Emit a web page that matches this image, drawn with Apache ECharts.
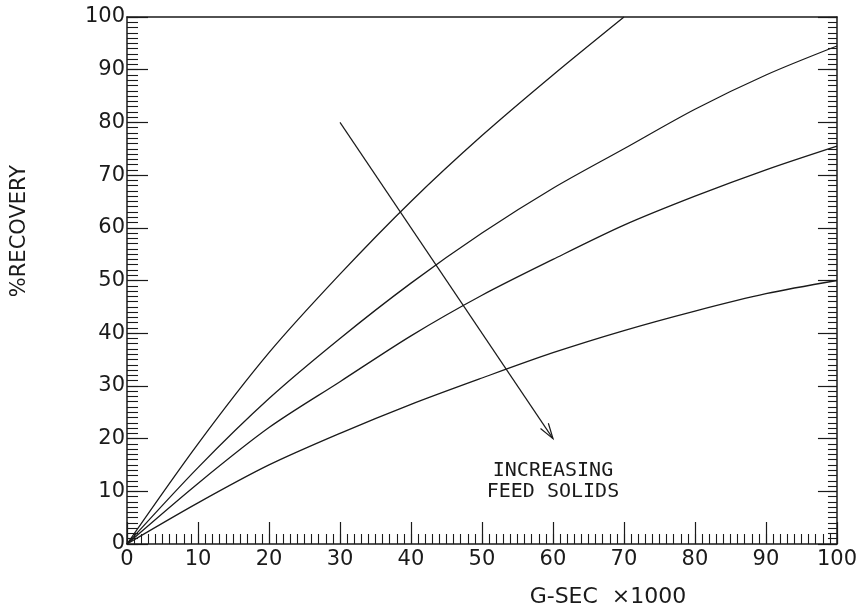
<!DOCTYPE html>
<html>
<head>
<meta charset="utf-8">
<script src="https://cdn.jsdelivr.net/npm/echarts@6/dist/echarts.min.js"></script>
<style>html,body{margin:0;padding:0;background:#fff}#c{width:860px;height:613px}</style>
</head>
<body>
<div id="c"></div>
<script>
// ---- data ----
const xValues = [0, 10, 20, 30, 40, 50, 60, 70, 80, 90, 100];
const curve1 = [0, 19, 36.3, 51.2, 65, 77.5, 89, 100];
const curve2 = [0, 14.5, 27.6, 39, 49.5, 59, 67.5, 75, 82.5, 89, 94.5];
const curve3 = [0, 11.5, 22.1, 30.8, 39.5, 47.2, 54, 60.5, 66, 71, 75.5];
const curve4 = [0, 7.8, 15, 21, 26.5, 31.5, 36.3, 40.5, 44.2, 47.5, 50];
const arrowFromTo = [30, 80, 60, 20];
const noteLines = ['INCREASING', 'FEED SOLIDS'];
const noteX = [60, 60];
const noteY = [13.8, 9.9];
const xTitle = 'G-SEC  \u00d71000';
const yTitle = '%RECOVERY';

function pairs(vals) { return vals.map((v, i) => [xValues[i], v]); }

const FONT = 'DejaVu Sans';
const INK = '#1a1a1a';

const chart = echarts.init(document.getElementById('c'), null, {renderer: 'canvas'});

const lineStyle = {color: INK, width: 1.3};
function curveSeries(vals) {
  return {
    type: 'line', data: pairs(vals), smooth: 0.3, symbol: 'none',
    xAxisIndex: 0, yAxisIndex: 0,
    lineStyle: lineStyle, clip: true, silent: true, z: 3
  };
}

function minorAxis(position, len) {
  return {
    type: 'value', min: 0, max: 100, interval: 1, position: position,
    axisLine: {show: false, onZero: false},
    axisTick: {show: true, inside: true, length: len, lineStyle: {color: INK, width: 1.1}},
    axisLabel: {show: false}, splitLine: {show: false}
  };
}

const option = {
  animation: false,
  backgroundColor: '#fff',
  grid: {left: 127, right: 18, top: 17, bottom: 62, containLabel: false},
  xAxis: [{
    type: 'value', min: 0, max: 100, interval: 10, position: 'bottom',
    name: xTitle, nameLocation: 'middle', nameGap: 42,
    nameTextStyle: {fontFamily: FONT, fontSize: 22, color: INK, padding: [0, 0, 0, 252]},
    axisLine: {show: true, onZero: false, lineStyle: {color: INK, width: 1.5}},
    axisTick: {show: true, inside: true, length: 22, lineStyle: {color: INK, width: 1.2}},
    axisLabel: {fontFamily: FONT, fontSize: 21, color: INK, margin: 5},
    splitLine: {show: false}
  }, {
    type: 'value', min: 0, max: 100, position: 'top',
    axisLine: {show: true, onZero: false, lineStyle: {color: INK, width: 1.5}},
    axisTick: {show: false}, axisLabel: {show: false}, splitLine: {show: false}
  }, minorAxis('bottom', 10)],
  yAxis: [{
    type: 'value', min: 0, max: 100, interval: 10, position: 'left',
    axisLine: {show: true, onZero: false, lineStyle: {color: INK, width: 1.5}},
    axisTick: {show: true, inside: true, length: 21, lineStyle: {color: INK, width: 1.2}},
    axisLabel: {fontFamily: FONT, fontSize: 21, color: INK, margin: 2},
    splitLine: {show: false}
  }, {
    type: 'value', min: 0, max: 100, interval: 10, position: 'right',
    axisLine: {show: true, onZero: false, lineStyle: {color: INK, width: 1.5}},
    axisTick: {show: true, inside: true, length: 19, lineStyle: {color: INK, width: 1.2}},
    axisLabel: {show: false}, splitLine: {show: false}
  }, minorAxis('left', 11), minorAxis('right', 9)],
  graphic: [{
    type: 'text', x: 20, y: 231, rotation: Math.PI / 2,
    style: {text: yTitle, fontFamily: FONT, fontSize: 21, fill: INK, align: 'center', verticalAlign: 'middle'}
  }],
  series: [
    curveSeries(curve1), curveSeries(curve2), curveSeries(curve3), curveSeries(curve4),
    {
      type: 'custom', silent: true, z: 4, xAxisIndex: 0, yAxisIndex: 0,
      data: [arrowFromTo],
      renderItem: function (params, api) {
        const p1 = api.coord([api.value(0), api.value(1)]);
        const p2 = api.coord([api.value(2), api.value(3)]);
        const ang = Math.atan2(p2[1] - p1[1], p2[0] - p1[0]);
        const L = 16, a = 0.3;
        const h1 = [p2[0] - L * Math.cos(ang - a), p2[1] - L * Math.sin(ang - a)];
        const h2 = [p2[0] - L * Math.cos(ang + a), p2[1] - L * Math.sin(ang + a)];
        const st = {stroke: INK, lineWidth: 1.2, fill: null};
        return {type: 'group', children: [
          {type: 'line', shape: {x1: p1[0], y1: p1[1], x2: p2[0], y2: p2[1]}, style: st},
          {type: 'polyline', shape: {points: [h1, p2, h2]}, style: st}
        ]};
      }
    },
    {
      type: 'custom', silent: true, z: 4, xAxisIndex: 0, yAxisIndex: 0,
      data: noteLines.map((t, i) => [noteX[i], noteY[i], t]),
      renderItem: function (params, api) {
        const p = api.coord([api.value(0), api.value(1)]);
        return {type: 'text', x: p[0], y: p[1], style: {
          text: noteLines[params.dataIndex], fontFamily: 'DejaVu Sans Mono', fontSize: 20,
          fill: INK, align: 'center', verticalAlign: 'middle'}};
      }
    }
  ]
};
chart.setOption(option);
</script>
</body>
</html>
